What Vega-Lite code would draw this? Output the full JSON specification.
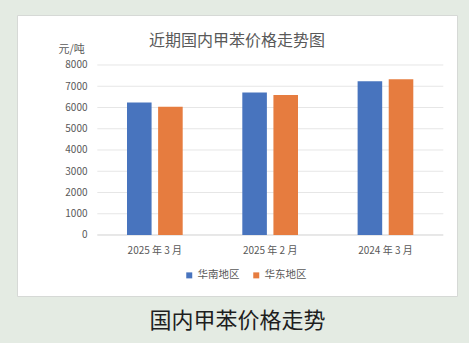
{
  "$schema": "https://vega.github.io/schema/vega-lite/v6.json",
  "width": 440,
  "height": 281,
  "autosize": {"type": "none"},
  "padding": {"left": 17, "top": 15, "right": 12, "bottom": 47},
  "background": "#e4ebe3",
  "view": {"fill": "#ffffff", "stroke": "#d6d9d6", "strokeWidth": 1},
  "title": {
    "text": "近期国内甲苯价格走势图",
    "fontSize": 16,
    "fontWeight": "normal",
    "color": "#595959",
    "font": "Noto Sans CJK SC",
    "anchor": "middle",
    "baseline": "middle",
    "offset": -42
  },
  "config": {
    "font": "Noto Sans CJK SC",
    "axis": {"labelFont": "Noto Sans CJK SC", "titleFont": "Noto Sans CJK SC"},
    "legend": {"labelFont": "Noto Sans CJK SC"}
  },
  "layer": [
    {
      "data": {"values": [{"v": 0}, {"v": 1000}, {"v": 2000}, {"v": 3000}, {"v": 4000}, {"v": 5000}, {"v": 6000}, {"v": 7000}, {"v": 8000}]},
      "mark": {"type": "rule", "strokeWidth": 1},
      "encoding": {
        "y": {"field": "v", "type": "quantitative"},
        "x": {"datum": "2025 年 3 月", "type": "nominal", "bandPosition": -0.533},
        "x2": {"datum": "2024 年 3 月", "bandPosition": 1.539},
        "color": {"condition": {"test": "datum.v === 0", "value": "#d0d0d0"}, "value": "#e6e6e6"}
      }
    },
    {
      "data": {"values": [
        {"month": "2025 年 3 月", "region": "华南地区", "price": 6230},
        {"month": "2025 年 3 月", "region": "华东地区", "price": 6040},
        {"month": "2025 年 2 月", "region": "华南地区", "price": 6700},
        {"month": "2025 年 2 月", "region": "华东地区", "price": 6590},
        {"month": "2024 年 3 月", "region": "华南地区", "price": 7230},
        {"month": "2024 年 3 月", "region": "华东地区", "price": 7330}
      ]},
      "mark": {"type": "bar"},
      "encoding": {
        "x": {"field": "month", "type": "nominal"},
        "xOffset": {"field": "region", "type": "nominal", "scale": {"domain": ["华南地区", "华东地区"], "paddingInner": 0.21, "paddingOuter": 0}},
        "y": {"field": "price", "type": "quantitative"},
        "y2": {"datum": 0},
        "color": {
          "field": "region",
          "type": "nominal",
          "scale": {"domain": ["华南地区", "华东地区"], "range": ["#4874BE", "#E67C3F"]},
          "legend": {
            "title": null,
            "orient": "none",
            "legendX": 167,
            "legendY": 255,
            "direction": "horizontal",
            "padding": 0,
            "symbolType": "square",
            "symbolSize": 36,
            "symbolStrokeWidth": 0,
            "labelFontSize": 10.5,
            "labelColor": "#595959",
            "labelOffset": 3,
            "columnPadding": 11
          }
        }
      }
    }
  ],
  "encoding": {
    "x": {
      "scale": {"domain": ["2025 年 3 月", "2025 年 2 月", "2024 年 3 月"], "paddingInner": 0.517, "paddingOuter": 0.6665, "align": 0.7157},
      "axis": {
        "title": "国内甲苯价格走势",
        "orient": "bottom",
        "offset": -61,
        "domain": false,
        "ticks": false,
        "tickSize": 0,
        "labelPadding": 10,
        "labelFontSize": 10,
        "labelColor": "#595959",
        "labelAngle": 0,
        "titleFontSize": 22,
        "titleFontWeight": "normal",
        "titleColor": "#1e1e1e",
        "titleY": 85,
        "titleBaseline": "middle"
      }
    },
    "y": {
      "scale": {"domain": [-2870.6, 10352.9], "nice": false, "zero": false},
      "axis": {
        "title": "元/吨",
        "orient": "left",
        "offset": -80,
        "values": [0, 1000, 2000, 3000, 4000, 5000, 6000, 7000, 8000],
        "format": "d",
        "grid": false,
        "domain": false,
        "ticks": false,
        "tickSize": 0,
        "labelPadding": 10,
        "labelFontSize": 10,
        "labelColor": "#595959",
        "titleAngle": 0,
        "titleAlign": "left",
        "titleBaseline": "alphabetic",
        "titleX": -39,
        "titleY": 37,
        "titleFontSize": 11,
        "titleFontWeight": "normal",
        "titleColor": "#595959"
      }
    }
  }
}
